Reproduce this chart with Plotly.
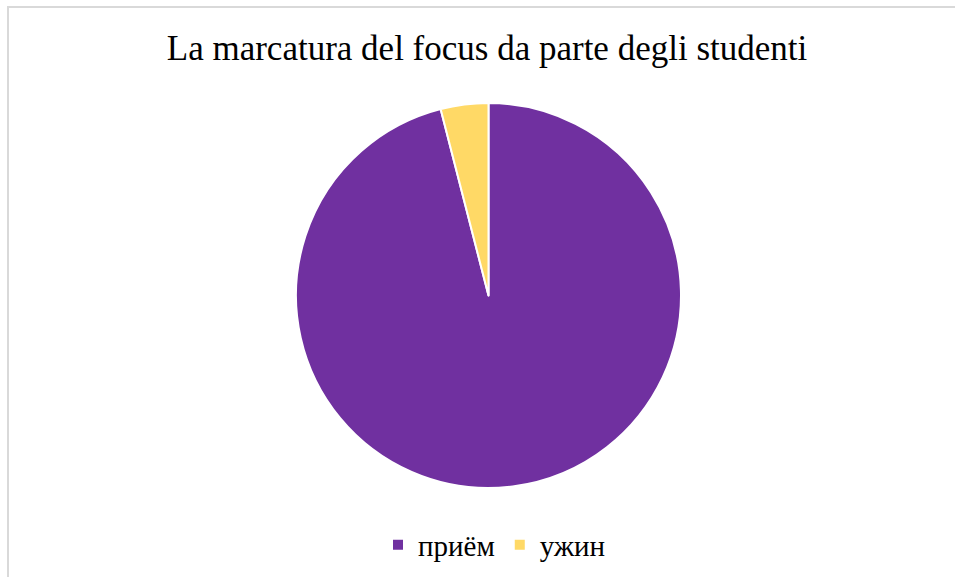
import plotly.graph_objects as go

# Share of the two marked categories
labels = ["приём", "ужин"]
values = [96, 4]
colors = ["#7030A0", "#FFD966"]

W, H = 955, 577

fig = go.Figure(
    go.Pie(
        labels=labels,
        values=values,
        marker=dict(colors=colors, line=dict(color="white", width=2)),
        sort=False,
        direction="clockwise",
        rotation=0,
        textinfo="none",
        hoverinfo="label+percent",
        domain=dict(x=[296 / W, 681 / W], y=[1 - 489 / H, 1 - 102 / H]),
    )
)

fig.update_layout(
    width=W,
    height=H,
    margin=dict(l=0, r=0, t=0, b=0),
    paper_bgcolor="white",
    plot_bgcolor="white",
    font=dict(family="Liberation Serif, Times New Roman, serif", color="#000000"),
    title=dict(
        text="La marcatura del focus da parte degli studenti",
        x=487 / W,
        xanchor="center",
        y=1 - 48 / H,
        yanchor="middle",
        font=dict(size=35, family="Liberation Serif, Times New Roman, serif", color="#000000"),
    ),
    showlegend=True,
    legend=dict(
        orientation="h",
        x=494 / W,
        xanchor="center",
        y=1 - 545 / H,
        yanchor="middle",
        font=dict(size=29, family="Liberation Serif, Times New Roman, serif", color="#000000"),
        itemwidth=30,
    ),
    shapes=[
        dict(
            type="rect",
            xref="paper",
            yref="paper",
            x0=8 / W,
            x1=1.05,
            y0=-0.05,
            y1=1 - 7 / H,
            line=dict(color="#D9D9D9", width=2),
            fillcolor="rgba(0,0,0,0)",
            layer="below",
        )
    ],
)

fig.write_html("out.html")
